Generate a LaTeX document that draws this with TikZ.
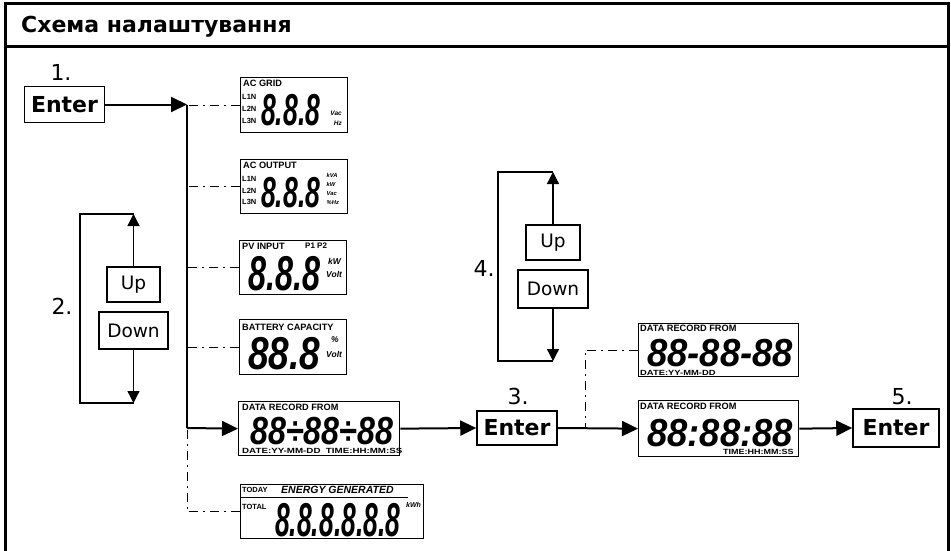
\documentclass[tikz,border=0pt]{standalone}
\usepackage{fontspec}
\setmainfont{DejaVu Sans}
\newfontfamily\lcdfont{Liberation Sans}
\newfontfamily\segfont{Liberation Sans}
\usetikzlibrary{arrows.meta,calc}
% #1 horizontal stretch, #2 font size, #3 digits
\newcommand{\lcdseg}[3]{{\fontsize{#2}{#2}\selectfont\segfont\bfseries\itshape\addfontfeatures{FakeStretch=#1}#3}}
\newcommand{\xsc}[2]{\scalebox{#1}[1]{#2}}
\newcommand{\lstack}[1]{\begin{tabular}[t]{@{}l@{}}#1\end{tabular}}
\newcommand{\rstack}[1]{\begin{tabular}[t]{@{}r@{}}#1\end{tabular}}
\begin{document}
\begin{tikzpicture}[x=1pt,y=-1pt,
  frame/.style={line width=3pt},
  lcdbox/.style={draw, line width=1.3pt, inner sep=0pt, anchor=north west},
  lab/.style={inner sep=0pt, anchor=west, font=\lcdfont\bfseries\fontsize{9.2}{9.2}\selectfont},
  smalllab/.style={inner sep=0pt, anchor=west, font=\lcdfont\bfseries\fontsize{7.5}{7.5}\selectfont},
  stacklab/.style={inner sep=0pt, anchor=base west},
  bigunit/.style={inner sep=0pt, anchor=west, font=\lcdfont\bfseries\itshape\fontsize{8.5}{8.5}\selectfont},
  seg/.style={inner sep=0pt, anchor=base west},
  main/.style={line width=2pt},
  mainarrow/.style={line width=2pt, -{Triangle[length=16pt,width=15pt]}},
  dd/.style={line width=1pt, dash pattern=on 9pt off 5pt on 2pt off 5pt},
  num/.style={inner sep=0pt, font=\fontsize{22}{22}\selectfont},
  btn/.style={draw, line width=1.2pt, inner sep=0pt, font=\fontsize{18.5}{18.5}\selectfont},
  enterbtn/.style={draw, line width=1.5pt, inner sep=0pt, font=\bfseries\fontsize{22}{22}\selectfont, minimum width=80pt, minimum height=36pt},
  udarrow/.style={line width=1.3pt, -{Triangle[length=12pt,width=12pt]}},
  bracket/.style={line width=1.1pt}]
\useasboundingbox (0,0) rectangle (951,550);
% frame
\draw[frame] (5,551) -- (5,3) -- (948,3) -- (948,551);
\draw[frame] (5,46) -- (948,46);
\node[inner sep=0pt, anchor=base west, font=\bfseries\fontsize{22}{22}\selectfont] (title) at (21,32) {Схема налаштування};

% step 1
\node[num] (n1) at (61,72) {1.};
\node[enterbtn] (e1) at (64.5,104.5) {Enter};
\coordinate (j1) at (187,104.5);
\coordinate (j2) at (187,428);

% AC GRID
\node[lcdbox, minimum width=107pt, minimum height=55pt] (grid) at (240,77) {};
\node[lab] (g1) at (243,83) {AC GRID};
\node[stacklab, font=\lcdfont\bfseries\fontsize{7.5}{12}\selectfont] (g2) at (242,99.7) {\lstack{L1N\\L2N\\L3N}};
\node[seg] (g5) at (261,125) {\lcdseg{0.594}{44.7}{8.8.8}};
\node[stacklab, anchor=base east, font=\lcdfont\bfseries\itshape\fontsize{6.5}{10}\selectfont] (g6) at (342,115.3) {\rstack{Vac\\Hz}};

% AC OUTPUT
\node[lcdbox, minimum width=107pt, minimum height=54pt] (outp) at (240,159) {};
\node[lab] (o1) at (243,165) {AC OUTPUT};
\node[stacklab, font=\lcdfont\bfseries\fontsize{7.5}{11.5}\selectfont] (o2) at (242,181.7) {\lstack{L1N\\L2N\\L3N}};
\node[seg] (o5) at (261,207) {\lcdseg{0.613}{43.3}{8.8.8}};
\node[stacklab, font=\lcdfont\bfseries\itshape\fontsize{5.8}{9}\selectfont] (o6) at (326.5,177.1) {\lstack{kVA\\kW\\Vac\\\%Hz}};

% PV INPUT
\node[lcdbox, minimum width=107pt, minimum height=54pt] (pv) at (239,240) {};
\node[lab] (p1) at (242,246) {PV INPUT};
\node[lab, font=\lcdfont\bfseries\fontsize{8}{8}\selectfont] (p2) at (305,246) {P1 P2};
\node[seg] (p3) at (248,290) {\lcdseg{0.662}{48.9}{8.8.8}};
\node[bigunit] (p4) at (328,261) {kW};
\node[bigunit] (p5) at (326,274) {Volt};

% BATTERY
\node[lcdbox, minimum width=107pt, minimum height=55pt] (bat) at (239,319) {};
\node[lab] (b1) at (242,327) {BATTERY CAPACITY};
\node[seg] (b2) at (248,369) {\lcdseg{0.803}{46.1}{88.8}};
\node[bigunit] (b3) at (331,340) {\%};
\node[bigunit] (b4) at (326,354) {Volt};

% DATA RECORD
\node[lcdbox, minimum width=161pt, minimum height=54pt] (data) at (238,401) {};
\node[lab] (d1) at (242,407) {DATA RECORD FROM};
\node[seg] (d2) at (250,444) {\lcdseg{0.824}{39.1}{88÷88÷88}};
\node[smalllab] (d3) at (242,451) {\xsc{1.3}{DATE:YY-MM-DD\ \ TIME:HH:MM:SS}};

% ENERGY
\node[lcdbox, minimum width=183pt, minimum height=54pt] (energy) at (240,484) {};
\node[smalllab] (en1) at (242,490) {TODAY};
\node[inner sep=0pt, anchor=west, font=\lcdfont\bfseries\itshape\fontsize{10.5}{10.5}\selectfont] (en2) at (281,490) {ENERGY GENERATED};
\draw[line width=1pt] (240,497.5) -- (408,497.5);
\node[smalllab] (en3) at (242,507) {TOTAL};
\node[seg] (en4) at (275,536) {\lcdseg{0.557}{47.5}{8.8.8.8.8.8}};
\node[inner sep=0pt, anchor=west, font=\lcdfont\bfseries\itshape\fontsize{7}{7}\selectfont] (en5) at (406,505) {kWh};

% connectors, trunk
\draw[mainarrow] (e1.east) -- (j1);
\draw[main] (j1) -- (j2);
\draw[mainarrow] (j2) -- (data.west);
\draw[dd] (grid.west) -- (grid.west -| j1);
\draw[dd] (outp.west) -- (outp.west -| j1);
\draw[dd] (pv.west) -- (pv.west -| j1);
\draw[dd] (bat.west) -- (bat.west -| j1);
\draw[dd] (energy.west) -- (energy.west -| j1) -- (j2);

% step 2
\node[num] (n2) at (62,306) {2.};
\node[btn, minimum width=53pt, minimum height=35pt] (up2) at (133.5,284.5) {Up};
\node[btn, minimum width=69pt, minimum height=37pt] (down2) at (133.5,330.5) {Down};
\coordinate (t2) at (133.5,214);
\coordinate (b2) at (133.5,403);
\draw[udarrow] (up2.north) -- (t2);
\draw[udarrow] (down2.south) -- (b2);
\draw[bracket] (t2) -- ++(-53.5,0) |- (b2);

% step 3
\node[num] (n3) at (518,396) {3.};
\node[enterbtn, minimum height=34pt] (e3) at (517,428) {Enter};
\draw[mainarrow] (data.east) -- (e3.west);

% step 4
\node[num] (n4) at (484,268) {4.};
\node[btn, minimum width=54pt, minimum height=35pt] (up4) at (553,242.5) {Up};
\node[btn, minimum width=70pt, minimum height=38pt] (down4) at (553,289) {Down};
\coordinate (t4) at (553,172);
\coordinate (b4) at (553,361);
\draw[udarrow] (up4.north) -- (t4);
\draw[udarrow] (down4.south) -- (b4);
\draw[bracket] (t4) -- ++(-55,0) |- (b4);

% date displays
\node[lcdbox, minimum width=160pt, minimum height=53pt] (date1) at (638,323) {};
\node[lab] (q1) at (640,328) {DATA RECORD FROM};
\node[seg] (q2) at (647,366) {\lcdseg{0.933}{39.1}{88-88-88}};
\node[smalllab] (q3) at (640,373) {\xsc{1.25}{DATE:YY-MM-DD}};

\node[lcdbox, minimum width=160pt, minimum height=56pt] (date2) at (638,400) {};
\node[lab] (r1) at (640,406) {DATA RECORD FROM};
\node[seg] (r2) at (647,446) {\lcdseg{0.933}{39.1}{88:88:88}};
\node[smalllab] (r3) at (723,452) {\xsc{1.2}{TIME:HH:MM:SS}};

\coordinate (j3) at (585,428);
\draw[mainarrow] (e3.east) -- (date2.west);
\draw[dd] (date1.west) -- (date1.west -| j3) -- (j3);

% step 5
\node[num] (n5) at (902,397) {5.};
\node[enterbtn, minimum width=86pt, minimum height=38pt] (e5) at (896,428) {Enter};
\draw[mainarrow] (date2.east) -- (e5.west);
\end{tikzpicture}
\end{document}
